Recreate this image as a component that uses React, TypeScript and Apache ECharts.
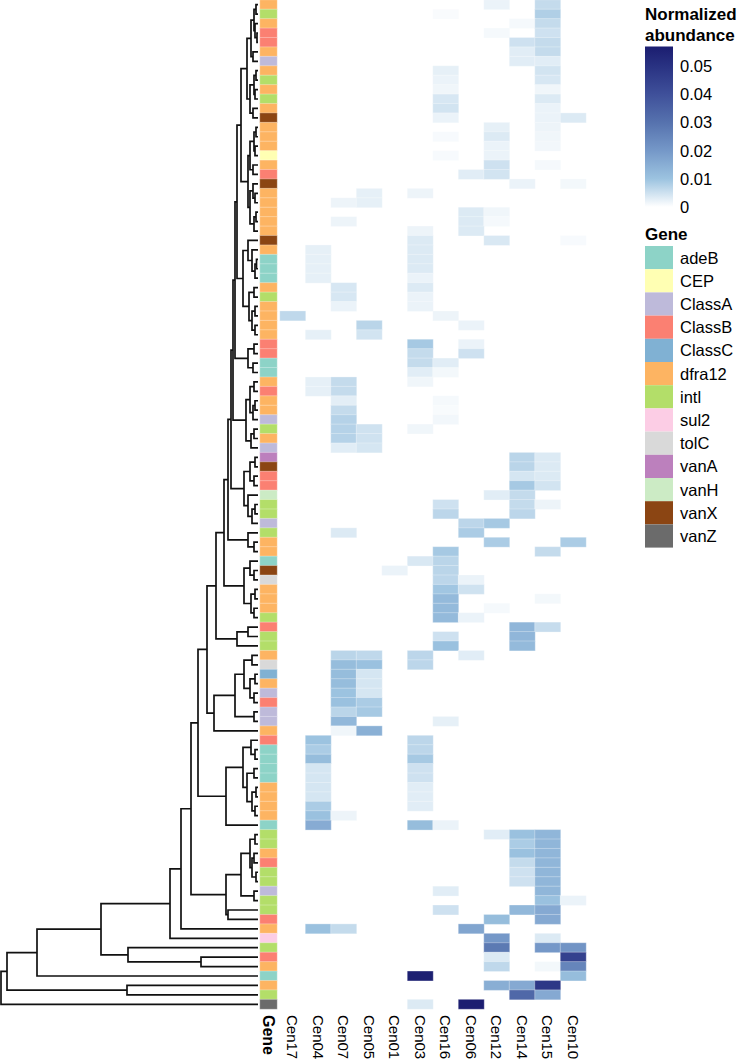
import React, { useEffect, useRef } from 'react';
import * as echarts from 'echarts';

const samples = ['Cen17', 'Cen04', 'Cen07', 'Cen05', 'Cen01', 'Cen03', 'Cen16', 'Cen06', 'Cen12', 'Cen14', 'Cen15', 'Cen10'];

const geneNames = ['adeB', 'CEP', 'ClassA', 'ClassB', 'ClassC', 'dfra12', 'intl', 'sul2', 'tolC', 'vanA', 'vanH', 'vanX', 'vanZ'];
const geneColors = ['#8DD3C7', '#FFFFB3', '#BEBADA', '#FB8072', '#80B1D3', '#FDB462', '#B3DE69', '#FCCDE5', '#D9D9D9', '#BC80BD', '#CCEBC5', '#8B4513', '#6B6B6B'];

// gene annotation of each heatmap row, top to bottom
const rowGenes = [
  'dfra12', 'intl', 'dfra12', 'ClassB', 'ClassB', 'dfra12', 'ClassA', 'dfra12', 'intl', 'dfra12',
  'intl', 'dfra12', 'vanX', 'dfra12', 'dfra12', 'dfra12', 'CEP', 'dfra12', 'ClassB', 'vanX',
  'dfra12', 'dfra12', 'dfra12', 'dfra12', 'dfra12', 'vanX', 'dfra12', 'adeB', 'adeB', 'adeB',
  'dfra12', 'intl', 'dfra12', 'dfra12', 'dfra12', 'dfra12', 'ClassB', 'ClassB', 'adeB', 'adeB',
  'dfra12', 'ClassB', 'dfra12', 'dfra12', 'ClassA', 'intl', 'dfra12', 'ClassA', 'vanA', 'vanX',
  'ClassB', 'ClassB', 'vanH', 'intl', 'intl', 'ClassA', 'intl', 'dfra12', 'dfra12', 'adeB',
  'vanX', 'tolC', 'dfra12', 'dfra12', 'dfra12', 'intl', 'ClassB', 'intl', 'intl', 'dfra12',
  'tolC', 'ClassC', 'dfra12', 'ClassA', 'ClassB', 'ClassA', 'ClassA', 'dfra12', 'ClassB', 'adeB',
  'adeB', 'adeB', 'adeB', 'dfra12', 'dfra12', 'dfra12', 'dfra12', 'adeB', 'intl', 'intl',
  'dfra12', 'ClassB', 'intl', 'intl', 'ClassA', 'intl', 'intl', 'ClassB', 'dfra12', 'sul2',
  'intl', 'ClassB', 'dfra12', 'adeB', 'dfra12', 'intl', 'vanZ'
];

// non-zero cells: [row, sample index, normalized abundance]
const cells = [
  [0, 8, 0.002], [0, 10, 0.006],
  [1, 6, 0.0006], [1, 10, 0.008],
  [2, 9, 0.001], [2, 10, 0.006],
  [3, 8, 0.001], [3, 10, 0.005],
  [4, 9, 0.005], [4, 10, 0.006],
  [5, 9, 0.003], [5, 10, 0.006],
  [6, 9, 0.003], [6, 10, 0.003],
  [7, 6, 0.0025], [7, 10, 0.0045],
  [8, 6, 0.002], [8, 10, 0.004],
  [9, 6, 0.0015], [9, 10, 0.0015],
  [10, 6, 0.004], [10, 10, 0.0035],
  [11, 6, 0.0045], [11, 10, 0.002],
  [12, 6, 0.002], [12, 10, 0.002], [12, 11, 0.0035],
  [13, 8, 0.0025], [13, 10, 0.0018],
  [14, 6, 0.0008], [14, 8, 0.0035], [14, 10, 0.0015],
  [15, 8, 0.002], [15, 10, 0.0013],
  [16, 6, 0.0008], [16, 8, 0.002],
  [17, 8, 0.005], [17, 10, 0.001],
  [18, 7, 0.003], [18, 8, 0.0045],
  [19, 9, 0.002], [19, 11, 0.0012],
  [20, 3, 0.0025], [20, 5, 0.0018],
  [21, 2, 0.0018], [21, 3, 0.0025],
  [22, 7, 0.0035], [22, 8, 0.0015],
  [23, 2, 0.0018], [23, 7, 0.0035], [23, 8, 0.001],
  [24, 5, 0.0018], [24, 7, 0.0035],
  [25, 5, 0.0035], [25, 8, 0.0038], [25, 11, 0.0008],
  [26, 1, 0.0025], [26, 5, 0.0035],
  [27, 1, 0.0025], [27, 5, 0.0035],
  [28, 1, 0.0025], [28, 5, 0.0035],
  [29, 1, 0.0025], [29, 5, 0.002],
  [30, 2, 0.004], [30, 5, 0.0035],
  [31, 2, 0.004], [31, 5, 0.002],
  [32, 2, 0.002], [32, 5, 0.002],
  [33, 0, 0.0065], [33, 6, 0.0018],
  [34, 3, 0.007], [34, 7, 0.002],
  [35, 1, 0.0025], [35, 3, 0.0045],
  [36, 5, 0.009], [36, 7, 0.002],
  [37, 5, 0.006], [37, 7, 0.005],
  [38, 5, 0.006], [38, 6, 0.003],
  [39, 5, 0.003], [39, 6, 0.0012],
  [40, 1, 0.0025], [40, 2, 0.006], [40, 5, 0.0015],
  [41, 1, 0.0025], [41, 2, 0.006],
  [42, 2, 0.0028], [42, 6, 0.001],
  [43, 2, 0.006], [43, 6, 0.0007],
  [44, 2, 0.0075], [44, 6, 0.0013],
  [45, 2, 0.0075], [45, 3, 0.0048], [45, 5, 0.0015],
  [46, 2, 0.0075], [46, 3, 0.0048],
  [47, 2, 0.003], [47, 3, 0.0042],
  [48, 9, 0.007], [48, 10, 0.0035],
  [49, 9, 0.007], [49, 10, 0.0035],
  [50, 9, 0.0042], [50, 10, 0.0035],
  [51, 9, 0.009], [51, 10, 0.0045],
  [52, 8, 0.003], [52, 9, 0.006],
  [53, 6, 0.005], [53, 9, 0.006], [53, 10, 0.0018],
  [54, 6, 0.0068], [54, 9, 0.0068],
  [55, 7, 0.0068], [55, 8, 0.009],
  [56, 2, 0.0035], [56, 7, 0.0085],
  [57, 8, 0.0085], [57, 11, 0.0085],
  [58, 6, 0.009], [58, 10, 0.006],
  [59, 5, 0.0038], [59, 6, 0.007],
  [60, 4, 0.002], [60, 6, 0.007],
  [61, 6, 0.0068], [61, 7, 0.002],
  [62, 6, 0.0095], [62, 7, 0.0048],
  [63, 6, 0.012], [63, 10, 0.0012],
  [64, 6, 0.012], [64, 8, 0.001],
  [65, 6, 0.012], [65, 7, 0.002],
  [66, 9, 0.013], [66, 10, 0.0058],
  [67, 6, 0.005], [67, 9, 0.013],
  [68, 6, 0.0105], [68, 9, 0.012],
  [69, 2, 0.007], [69, 3, 0.0065], [69, 5, 0.0068], [69, 7, 0.003],
  [70, 2, 0.0115], [70, 3, 0.0105], [70, 5, 0.0068],
  [71, 2, 0.0115], [71, 3, 0.0042],
  [72, 2, 0.0115], [72, 3, 0.0042],
  [73, 2, 0.01], [73, 3, 0.0042],
  [74, 2, 0.0105], [74, 3, 0.0085],
  [75, 2, 0.007], [75, 3, 0.009],
  [76, 2, 0.0125], [76, 6, 0.0025],
  [77, 2, 0.0015], [77, 3, 0.0145],
  [78, 1, 0.01], [78, 5, 0.0068],
  [79, 1, 0.0085], [79, 5, 0.0068],
  [80, 1, 0.0115], [80, 5, 0.009],
  [81, 1, 0.0042], [81, 5, 0.005],
  [82, 1, 0.0042], [82, 5, 0.005],
  [83, 1, 0.0042], [83, 5, 0.003],
  [84, 1, 0.0042], [84, 5, 0.003],
  [85, 1, 0.0085], [85, 5, 0.003],
  [86, 1, 0.0105], [86, 2, 0.0018],
  [87, 1, 0.0155], [87, 5, 0.0115], [87, 6, 0.002],
  [88, 8, 0.003], [88, 9, 0.0105], [88, 10, 0.013],
  [89, 9, 0.0085], [89, 10, 0.013],
  [90, 9, 0.0105], [90, 10, 0.013],
  [91, 9, 0.006], [91, 10, 0.013],
  [92, 9, 0.005], [92, 10, 0.013],
  [93, 9, 0.005], [93, 10, 0.013],
  [94, 6, 0.003], [94, 10, 0.013],
  [95, 10, 0.0105], [95, 11, 0.002],
  [96, 6, 0.005], [96, 9, 0.0125], [96, 10, 0.016],
  [97, 8, 0.0115], [97, 10, 0.016],
  [98, 1, 0.0105], [98, 2, 0.006], [98, 7, 0.017],
  [99, 8, 0.02], [99, 10, 0.0035],
  [100, 8, 0.028], [100, 10, 0.02], [100, 11, 0.021],
  [101, 8, 0.0035], [101, 11, 0.045],
  [102, 8, 0.0065], [102, 10, 0.0012], [102, 11, 0.025],
  [103, 5, 0.056], [103, 11, 0.0115],
  [104, 8, 0.015], [104, 9, 0.016], [104, 10, 0.048],
  [105, 9, 0.033], [105, 10, 0.016],
  [106, 5, 0.0035], [106, 7, 0.0565]
];

// colour ramp at 0, 0.01, ..., 0.06
const rampMax = 0.06;
const rampColors = ['#ffffff', '#9cc3e0', '#7598c8', '#5672ae', '#3f509a', '#293282', '#151468'];
const legendTicks = [0, 0.01, 0.02, 0.03, 0.04, 0.05];
const legendTickLabels = ['0', '0.01', '0.02', '0.03', '0.04', '0.05'];
const legendBarMax = 0.0569;

// row dendrogram: [height, upper child, lower child]; numbers are leaf rows
const U1 = [7, [4, [2, 0, 1], [3, 2, [1, 3, 4]]], [5, 5, 6]];
const U2 = [8, [4, [2, 7, 8], [3, 9, 10]], [5, 11, 12]];
const U3 = [8, [4, [2, 13, 14], [3, 15, 16]], [5, 17, 18]];
const U4 = [8, [5, 19, [3, 20, 21]], [4, [2, 22, 23], 24]];
const U5 = [15, [10, 25, [6, 26, [3, [1.5, 27, 28], 29]]], [9, [4, 30, 31], [6, [3, 32, 33], [3, 34, 35]]]];
const U6 = [10, [4, 36, 37], [5, 38, 39]];
const U7 = [12, [8, [4, 40, 41], [5, [3, 42, 43], 44]], [7, [4, 45, 46], 47]];
const U8 = [14, [8, [3, 48, 49], [4, 50, 51]], [10, 52, [6, [3, 53, 54], 55]]];
const P1 = [10, 56, [4, 57, 58]];
const P2 = [14, [8, 59, [4, 60, 61]], [7, [3, 62, 63], [4, 64, 65]]];
const S5 = [30, [27, [25, [23, [21, [17, [11, U1, U2], [10, U3, U4]], U5], U6], U7], U8], P1];
const N = [42, [34, S5, P2], [21, [10, 66, 67], 68]];
const O = [44, [23, [14, [6, 69, 70], [8, [3, 71, 72], [4, 73, 74]]], [4, 75, 76]], 77];
const M = [32, [15, [7, 78, [3, 79, 80]], [11, [4, 81, 82], [6, [2, 83, 84], [3, 85, 86]]]], 87];
const K = [32, [17, [8, [3, 88, 89], [6, [4, 90, 91], [2, 92, 93]]], [4, 94, 95]], [30, 96, 97]];
const E = [88, [77, [67, [60, [51, N, O], M], K], 98], 99];
const tree = [257, [251, [221, [157, E, [130, 100, [57, 101, 102]]], 103], [131, 104, 105]], 106];
const treeMax = 257;

const FONT = 'Liberation Sans, Arial, Helvetica, sans-serif';

function buildSegments(node: any, segs: number[][][]): { y: number; h: number } {
  if (typeof node === 'number') return { y: node, h: 0 };
  const [h, l, r] = node;
  const a = buildSegments(l, segs);
  const b = buildSegments(r, segs);
  segs.push([[a.h, a.y], [h, a.y], [h, b.y], [b.h, b.y]]);
  return { y: (a.y + b.y) / 2, h };
}

export default function App() {
  const ref = useRef<HTMLDivElement>(null);
  useEffect(() => {
    if (!ref.current) return;
    const chart = echarts.init(ref.current, undefined, { renderer: 'svg' });
    const nRows = rowGenes.length;
    const rowCats = rowGenes.map((_, i) => String(i));
    const segs: number[][][] = [];
    buildSegments(tree, segs);

    const top = 0;
    const hmHeight = 1009;

    // legend geometry
    const lx = 645;
    const barW = 28;
    const zeroY = 207;
    const pxPerUnit = 2820; // px per 1.0 of abundance
    const barTop = zeroY - legendBarMax * pxPerUnit;
    const barStops: any[] = [];
    for (let i = 0; i < rampColors.length; i++) {
      const v = i * (rampMax / (rampColors.length - 1));
      if (v < legendBarMax) barStops.push({ offset: v / legendBarMax, color: rampColors[i] });
    }
    barStops.push({ offset: 1, color: echarts.color.lerp(legendBarMax / rampMax, rampColors) });

    const graphics: any[] = [
      { type: 'text', left: lx, top: 6, style: { text: 'Normalized', font: `bold 17px ${FONT}`, fill: '#000' } },
      { type: 'text', left: lx, top: 27, style: { text: 'abundance', font: `bold 17px ${FONT}`, fill: '#000' } },
      {
        type: 'rect', shape: { x: lx, y: barTop, width: barW, height: zeroY - barTop },
        style: { fill: { type: 'linear', x: 0, y: 1, x2: 0, y2: 0, colorStops: barStops } }
      },
      { type: 'text', left: lx, top: 226, style: { text: 'Gene', font: `bold 17px ${FONT}`, fill: '#000' } }
    ];
    legendTicks.forEach((v, i) => {
      graphics.push({
        type: 'text', x: lx + barW + 7, y: zeroY - v * pxPerUnit,
        style: { text: legendTickLabels[i], font: `16.5px ${FONT}`, fill: '#000', verticalAlign: 'middle', align: 'left' }
      });
    });
    const keyTop = 246;
    const keyH = 23.2;
    geneNames.forEach((g, i) => {
      graphics.push({ type: 'rect', shape: { x: lx, y: keyTop + i * keyH, width: barW, height: keyH }, style: { fill: geneColors[i] } });
      graphics.push({
        type: 'text', x: lx + barW + 7, y: keyTop + i * keyH + keyH / 2,
        style: { text: g, font: `16.5px ${FONT}`, fill: '#000', verticalAlign: 'middle', align: 'left' }
      });
    });

    const hiddenCat = (gridIndex: number) => ({
      type: 'category', gridIndex, data: rowCats, inverse: true, show: false
    });

    chart.setOption({
      animation: false,
      backgroundColor: '#ffffff',
      grid: [
        { left: 1, top, width: 257, height: hmHeight },
        { left: 260, top, width: 17, height: hmHeight },
        { left: 280, top, width: 306, height: hmHeight }
      ],
      xAxis: [
        { type: 'value', gridIndex: 0, min: 0, max: treeMax, inverse: true, show: false },
        {
          type: 'category', gridIndex: 1, data: ['Gene'], axisLine: { show: false }, axisTick: { show: false },
          axisLabel: { rotate: -90, margin: 6, fontSize: 16, fontWeight: 'bold', color: '#000', fontFamily: FONT }
        },
        {
          type: 'category', gridIndex: 2, data: samples, axisLine: { show: false }, axisTick: { show: false },
          axisLabel: { rotate: -90, margin: 6, fontSize: 15, color: '#000', fontFamily: FONT, interval: 0 }
        }
      ],
      yAxis: [
        { type: 'value', gridIndex: 0, min: -0.5, max: nRows - 0.5, inverse: true, show: false },
        hiddenCat(1),
        hiddenCat(2)
      ],
      visualMap: [
        {
          type: 'piecewise', show: false, seriesIndex: 1, dimension: 2,
          pieces: geneNames.map((g, i) => ({ value: i, color: geneColors[i] }))
        },
        {
          type: 'continuous', show: false, seriesIndex: 2, dimension: 2, min: 0, max: rampMax,
          inRange: { color: rampColors }
        }
      ],
      series: [
        {
          type: 'lines', coordinateSystem: 'cartesian2d', xAxisIndex: 0, yAxisIndex: 0, polyline: true, silent: true,
          lineStyle: { color: '#111111', width: 1.7, opacity: 1 },
          data: segs.map((c) => ({ coords: c }))
        },
        {
          type: 'heatmap', xAxisIndex: 1, yAxisIndex: 1, silent: true,
          itemStyle: { borderColor: '#ffffff', borderWidth: 0.3 },
          data: rowGenes.map((g, i) => [0, i, geneNames.indexOf(g)])
        },
        {
          type: 'heatmap', xAxisIndex: 2, yAxisIndex: 2, silent: true,
          itemStyle: { borderColor: '#ffffff', borderWidth: 0.3 },
          data: cells.map(([r, c, v]) => [c, r, v])
        }
      ],
      graphic: graphics
    });
    return () => chart.dispose();
  }, []);
  return <div ref={ref} style={{ position: 'absolute', left: 0, top: 0, width: 738, height: 1063 }} />;
}
